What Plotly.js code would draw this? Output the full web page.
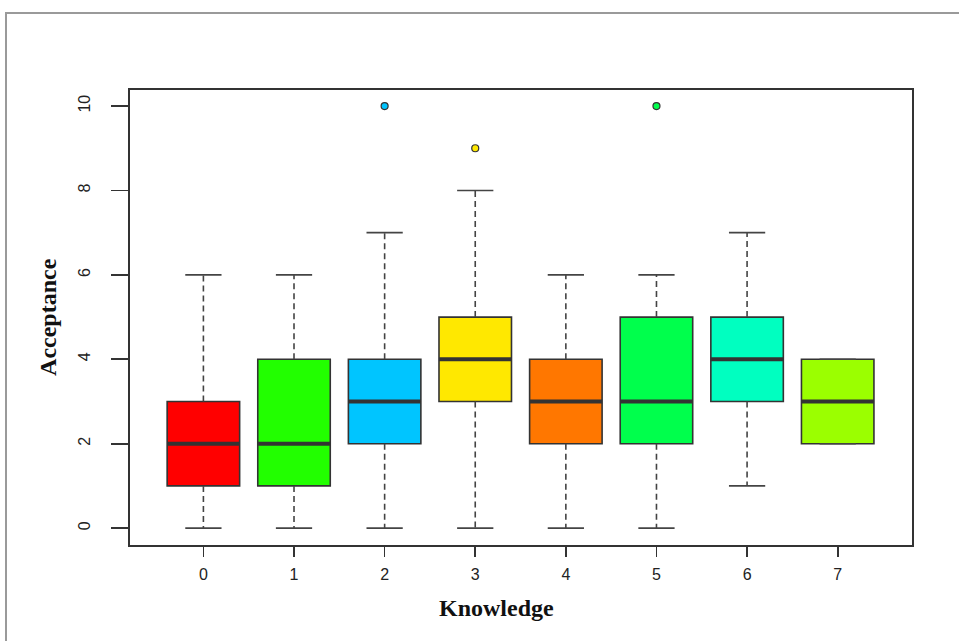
<!DOCTYPE html>
<html>
<head>
<meta charset="utf-8">
<script src="https://cdn.plot.ly/plotly-3.0.1.min.js"></script>
<style>
  html, body { margin:0; padding:0; background:#fff; }
  #wrap { position:relative; width:959px; height:641px; overflow:hidden; }
  #frame { position:absolute; left:5px; top:12px; width:1000px; height:700px;
           border-left:2px solid #9a9a9a; border-top:2px solid #9a9a9a; pointer-events:none; }
  #chart { position:absolute; left:0; top:0; width:959px; height:641px; }
</style>
</head>
<body>
<div id="wrap">
  <div id="chart"></div>
  <div id="frame"></div>
</div>
<script>
// ---- data ----
const categories = ["0","1","2","3","4","5","6","7"];
const lowerWhisker = [0, 0, 0, 0, 0, 0, 1, 2];
const q1Values     = [1, 1, 2, 3, 2, 2, 3, 2];
const medianValues = [2, 2, 3, 4, 3, 3, 4, 3];
const q3Values     = [3, 4, 4, 5, 4, 5, 5, 4];
const upperWhisker = [6, 6, 7, 8, 6, 6, 7, 4];
const outlierCats  = [2, 3, 5];
const outlierVals  = [10, 9, 10];
const boxColors = ["#FF0000","#22FF00","#00C5FF","#FFE800","#FF7700","#00FF4C","#00FFC0","#9BFF00"];
const yTicks = [0, 2, 4, 6, 8, 10];

// ---- styles ----
const boxHalf = 0.4, capHalf = 0.2;
const dark = "#333333";
const traces = [];

categories.forEach((c, i) => {
  // dashed whiskers
  traces.push({type:"scatter", mode:"lines", x:[i, i, null, i, i],
    y:[q3Values[i], upperWhisker[i], null, q1Values[i], lowerWhisker[i]],
    line:{color:"#444", width:1.6, dash:"6px,4px"}, hoverinfo:"skip", showlegend:false});
  // caps
  traces.push({type:"scatter", mode:"lines",
    x:[i-capHalf, i+capHalf, null, i-capHalf, i+capHalf],
    y:[upperWhisker[i], upperWhisker[i], null, lowerWhisker[i], lowerWhisker[i]],
    line:{color:"#444", width:1.6}, hoverinfo:"skip", showlegend:false});
});

categories.forEach((c, i) => {
  traces.push({type:"box", x:[i], q1:[q1Values[i]], median:[medianValues[i]], q3:[q3Values[i]],
    lowerfence:[q1Values[i]], upperfence:[q3Values[i]], width:2*boxHalf,
    fillcolor:boxColors[i], line:{color:dark, width:1.6}, whiskerwidth:0,
    boxpoints:false, hoverinfo:"skip", showlegend:false});
});

categories.forEach((c, i) => {
  traces.push({type:"scatter", mode:"lines", x:[i-boxHalf, i+boxHalf],
    y:[medianValues[i], medianValues[i]], line:{color:dark, width:4},
    hoverinfo:"skip", showlegend:false});
});

traces.push({type:"scatter", mode:"markers", x:outlierCats, y:outlierVals,
  marker:{size:7, color:outlierCats.map(k => boxColors[k]), line:{color:dark, width:1.2}},
  hoverinfo:"skip", showlegend:false});

const layout = {
  width:959, height:641,
  margin:{l:130, r:47, t:90, b:96},
  paper_bgcolor:"rgba(0,0,0,0)", plot_bgcolor:"#fff",
  showlegend:false,
  xaxis:{type:"linear", range:[-0.81, 7.82], tickvals:categories.map((c,i)=>i), ticktext:categories,
    showgrid:false, zeroline:false, showline:true, mirror:true, linecolor:dark, linewidth:2,
    ticks:"outside", ticklen:10, tickwidth:1.6, tickcolor:dark, ticklabelstandoff:4,
    tickfont:{family:"Liberation Sans, Arial, sans-serif", size:16, color:"#222"}},
  yaxis:{range:[-0.4, 10.38], tickvals:yTicks, ticktext:yTicks.map(String),
    showgrid:false, zeroline:false, showline:true, mirror:true, linecolor:dark, linewidth:2,
    ticks:"outside", ticklen:17, tickwidth:1.6, tickcolor:dark, tickangle:-90, ticklabelstandoff:15,
    tickfont:{family:"Liberation Sans, Arial, sans-serif", size:16, color:"#222"}},
  annotations:[
    {text:"<b>Knowledge</b>", xref:"paper", yref:"paper", x:0.469, y:-0.138,
     xanchor:"center", yanchor:"middle", showarrow:false,
     font:{family:"Liberation Serif, Times New Roman, serif", size:24, color:"#111"}},
    {text:"<b>Acceptance</b>", xref:"paper", yref:"paper", x:-0.105, y:0.501, textangle:-90,
     xanchor:"center", yanchor:"middle", showarrow:false,
     font:{family:"Liberation Serif, Times New Roman, serif", size:24, color:"#111"}}
  ]
};

Plotly.newPlot("chart", traces, layout, {displayModeBar:false, staticPlot:true});
</script>
</body>
</html>
